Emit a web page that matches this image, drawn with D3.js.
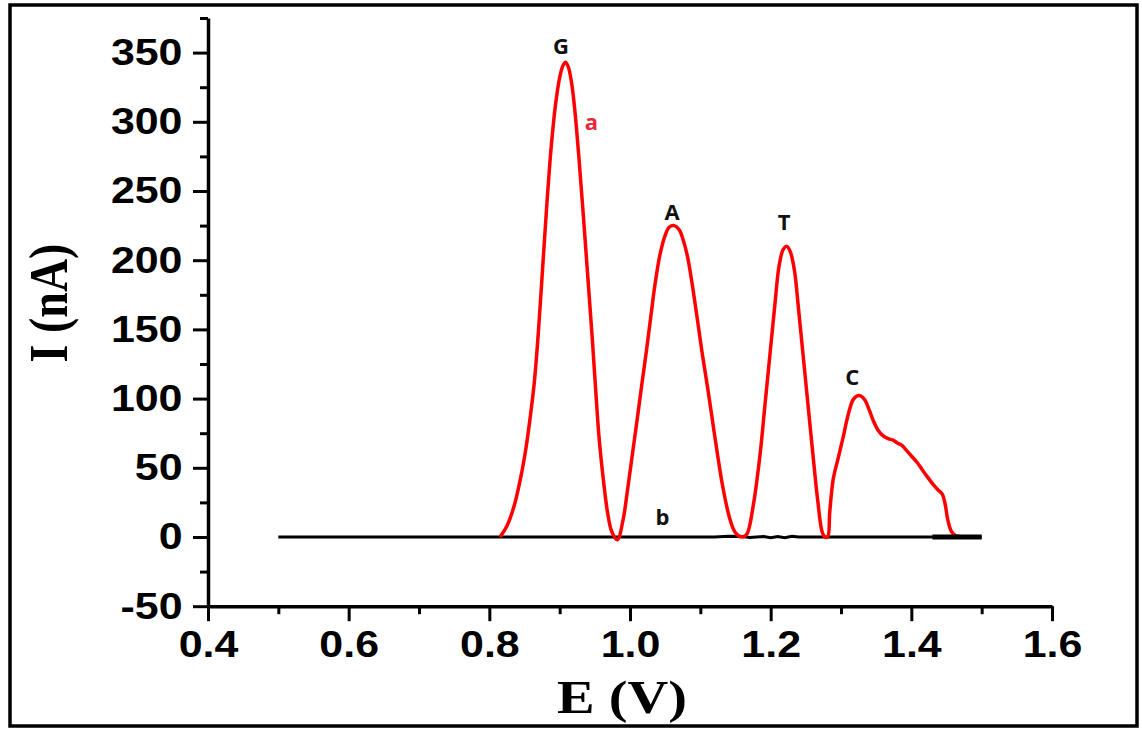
<!DOCTYPE html>
<html>
<head>
<meta charset="utf-8">
<script src="https://cdn.jsdelivr.net/npm/d3@7"></script>
<style>
  html, body { margin: 0; padding: 0; background: #fff; }
  svg { display: block; }
</style>
</head>
<body>
<svg id="chart" width="1142" height="729"></svg>
<script>
// ---- data ----
const xTicks = [0.4, 0.6, 0.8, 1.0, 1.2, 1.4, 1.6];
const xMinor = [0.5, 0.7, 0.9, 1.1, 1.3, 1.5];
const yTicks = [-50, 0, 50, 100, 150, 200, 250, 300, 350];
const yMinor = [-25, 25, 75, 125, 175, 225, 275, 325, 375];

// curve a (red): potential E (V)
const aE = [
  0.815, 0.825, 0.835, 0.845, 0.852, 0.858, 0.864, 0.870, 0.876, 0.882, 0.888, 0.894, 0.900, 0.905, 0.908,
  0.912, 0.917, 0.922, 0.928, 0.934, 0.940, 0.946, 0.951, 0.956, 0.962, 0.968, 0.974, 0.982,
  0.990, 0.997, 1.004, 1.011, 1.017, 1.024, 1.030, 1.036, 1.043, 1.050, 1.056, 1.063,
  1.070, 1.076, 1.082, 1.088, 1.095, 1.102, 1.110, 1.117, 1.124, 1.132, 1.142, 1.150, 1.159,
  1.166, 1.175, 1.185, 1.192, 1.199, 1.206, 1.212, 1.218, 1.223,
  1.228, 1.234, 1.239, 1.246, 1.253, 1.260, 1.267, 1.273, 1.277, 1.281,
  1.284, 1.289, 1.296, 1.303, 1.310, 1.317, 1.323, 1.328, 1.334, 1.340, 1.346, 1.353, 1.360,
  1.367, 1.374, 1.380, 1.387, 1.394, 1.401, 1.408, 1.415, 1.422, 1.431, 1.438, 1.444,
  1.448, 1.452, 1.457, 1.463, 1.480, 1.498
];
// curve a (red): current I (nA)
const aI = [
  0, 8, 22, 44, 64, 86, 112, 150, 196, 242, 282, 312, 332, 341, 343,
  340, 328, 306, 270, 230, 188, 146, 108, 72, 42, 18, 4, -2,
  12, 36, 62, 88, 111, 137, 161, 184, 205, 218, 224, 225,
  222, 214, 202, 184, 160, 135, 109, 85, 61, 36, 13, 3, 0,
  2, 22, 60, 96, 132, 168, 196, 208, 210,
  206, 192, 168, 132, 96, 60, 26, 4, 0, 0,
  18, 42, 57, 72, 88, 99, 102, 102, 99, 92, 84, 77, 73,
  71, 70, 68, 66, 62, 58, 54, 49, 44, 38, 34, 31,
  24, 12, 4, 1, 0, 0
];

// curve b (black): blank
const bE = [0.50, 1.12, 1.14, 1.16, 1.17, 1.19, 1.20, 1.21, 1.22, 1.23, 1.24, 1.43, 1.50];
const bI = [0, 0, 0.6, 0.4, -0.4, 0.3, -0.6, 0.4, -0.6, 0.5, 0, 0, 0];

// annotations
const labelText = ["G", "A", "T", "C", "a", "b"];
const labelE = [0.902, 1.060, 1.219, 1.316, 0.945, 1.046];
const labelI = [349, 229, 222, 110, 294, 8.7];
const labelColor = ["#111", "#111", "#111", "#111", "#e8283c", "#111"];

// ---- drawing ----
const svg = d3.select("#chart");
const x = d3.scaleLinear().domain([0.4, 1.6]).range([208, 1052]);
const y = d3.scaleLinear().domain([-50, 375]).range([606.2, 18]);

// outer border
svg.append("rect")
  .attr("x", 10).attr("y", 5).attr("width", 1127).attr("height", 721)
  .attr("fill", "none").attr("stroke", "#000").attr("stroke-width", 3.5);

const tickFont = "'Liberation Sans', Arial, sans-serif";

// x axis
const gx = svg.append("g").attr("transform", `translate(0,${y(-50)})`);
gx.call(d3.axisBottom(x).tickValues(xTicks).tickFormat(d3.format(".1f"))
  .tickSize(15).tickPadding(10).tickSizeOuter(0));
const gxm = svg.append("g").attr("transform", `translate(0,${y(-50)})`);
gxm.call(d3.axisBottom(x).tickValues(xMinor).tickFormat("").tickSize(8));
gxm.select(".domain").remove();

// y axis
const gy = svg.append("g").attr("transform", `translate(${x(0.4)},0)`);
gy.call(d3.axisLeft(y).tickValues(yTicks).tickFormat(d => String(d))
  .tickSize(15).tickPadding(7).tickSizeOuter(0));
const gym = svg.append("g").attr("transform", `translate(${x(0.4)},0)`);
gym.call(d3.axisLeft(y).tickValues(yMinor).tickFormat("").tickSize(8));
gym.select(".domain").remove();

svg.selectAll(".domain").attr("stroke", "#000").attr("stroke-width", 3.5);
svg.selectAll(".tick line").attr("stroke", "#000").attr("stroke-width", 3);
svg.selectAll(".tick text")
  .attr("font-family", tickFont).attr("font-weight", "bold")
  .attr("font-size", 37).attr("fill", "#000")
  .attr("transform", "scale(1.16,1)");

// axis titles
svg.append("text")
  .attr("transform", "translate(67,303) scale(1.2,1) rotate(-90)")
  .attr("text-anchor", "middle")
  .attr("font-family", "'Liberation Serif', 'Times New Roman', serif")
  .attr("font-weight", "bold").attr("font-size", 46).attr("fill", "#000")
  .text("I (nA)");
svg.append("text")
  .attr("transform", "translate(622,713) scale(1.2,1)")
  .attr("text-anchor", "middle")
  .attr("font-family", "'Liberation Serif', 'Times New Roman', serif")
  .attr("font-weight", "bold").attr("font-size", 47).attr("fill", "#000")
  .text("E (V)");

// curves
const lineGen = d3.line().x(d => x(d[0])).y(d => y(d[1])).curve(d3.curveCatmullRom.alpha(0.5));
const lineLin = d3.line().x(d => x(d[0])).y(d => y(d[1]));
const bData = bE.map((e, i) => [e, bI[i]]);
const aData = aE.map((e, i) => [e, aI[i]]);

svg.append("path").datum(bData)
  .attr("d", lineLin).attr("fill", "none").attr("stroke", "#000").attr("stroke-width", 3);
svg.append("path").datum(aData)
  .attr("d", lineGen).attr("fill", "none").attr("stroke", "#ff0000")
  .attr("stroke-width", 3.5).attr("stroke-linejoin", "round");
svg.append("path").datum(bData.filter(d => d[0] >= 1.43))
  .attr("d", lineLin).attr("fill", "none").attr("stroke", "#000").attr("stroke-width", 5);

// annotations
labelText.forEach((t, i) => {
  svg.append("text")
    .attr("x", x(labelE[i])).attr("y", y(labelI[i]))
    .attr("text-anchor", "middle")
    .attr("font-family", "'Open Sans', 'Liberation Sans', sans-serif")
    .attr("font-weight", "bold").attr("font-size", 22)
    .attr("fill", labelColor[i])
    .text(t);
});
</script>
</body>
</html>
